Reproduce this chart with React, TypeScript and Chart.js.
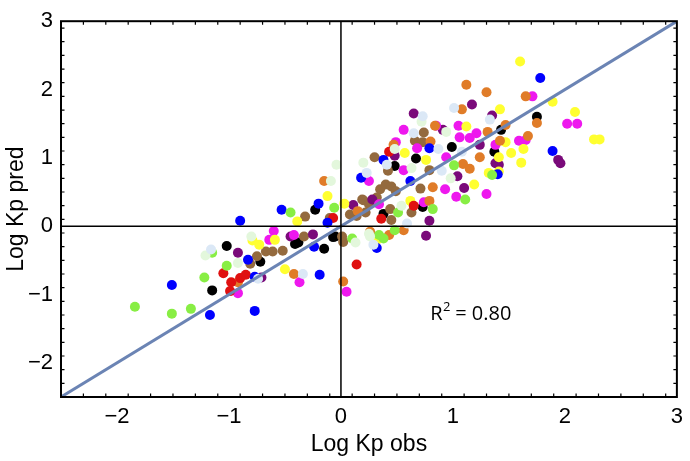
import React, { useEffect, useRef } from "react";
import { Chart, registerables } from "chart.js";

Chart.register(...registerables);

const X_TICKS = [-2, -1, 0, 1, 2, 3];
const Y_TICKS = [-2, -1, 0, 1, 2, 3];
const X_TITLE = "Log Kp obs";
const Y_TITLE = "Log Kp pred";
const R2_LABEL = "0.80";
const R2_POS = [1.16, -1.29];
const FIT_LINE = [[-2.5, -2.5], [3, 3]];

const bluePts = [[-1.51,-0.86],[-1.17,-1.30],[-0.77,-1.24],[-0.77,-0.74],[-0.83,-0.49],[-0.90,0.08],[-0.53,0.24],[-0.12,0.05],[-0.24,-0.30],[-0.19,-0.71],[-0.20,0.33],[0.18,0.71],[0.32,-0.32],[1.78,2.17],[0.79,1.14],[1.89,1.10],[0.38,0.97],[0.62,0.66],[1.40,0.76]];
const blackPts = [[-1.15,-0.94],[-1.02,-0.29],[-0.72,-0.52],[-0.41,-0.26],[-0.38,-0.24],[-0.15,-0.33],[-0.07,-0.16],[-0.23,0.24],[-0.05,-0.15],[0.38,0.18],[0.73,0.28],[0.48,0.88],[0.67,0.99],[0.99,1.16],[1.37,1.09],[1.43,1.41],[1.75,1.60]];
const redPts = [[-0.99,-0.95],[-0.90,-0.76],[-0.85,-0.71],[-1.05,-0.69],[-0.98,-0.82],[0.14,-0.56],[0.43,1.09],[0.36,0.11],[0.65,0.30],[-0.07,0.12]];
const orangePts = [[-0.92,-0.82],[-0.42,-0.70],[0.02,-0.81],[-0.15,0.66],[1.12,2.07],[1.30,1.96],[1.65,1.90],[1.08,1.71],[1.75,1.51],[0.84,1.47],[1.47,1.48],[1.31,1.38],[1.67,1.32],[0.80,1.24],[0.47,1.19],[1.42,1.25],[1.24,1.01],[1.09,0.91],[1.15,0.84],[0.82,0.57],[0.79,0.37],[0.56,-0.06],[0.43,-0.13],[0.26,-0.08],[0.15,0.22]];
const yellowPts = [[-0.79,-0.21],[-0.73,-0.27],[-0.59,-0.20],[-0.50,-0.63],[-0.39,0.07],[-0.12,0.44],[0.03,0.33],[1.60,2.41],[1.89,1.82],[1.42,1.71],[2.09,1.67],[1.12,1.46],[2.26,1.27],[2.31,1.27],[1.47,1.23],[1.63,1.13],[0.57,1.07],[1.52,1.07],[1.61,0.93],[1.41,1.01],[0.76,0.97],[1.32,0.78],[1.41,0.80],[1.19,0.61],[0.62,0.37],[0.32,-0.20]];
const magentaPts = [[-0.92,-0.98],[-0.64,-0.20],[-0.60,-0.07],[-0.42,-0.13],[-0.37,-0.82],[0.05,-0.96],[0.25,0.66],[1.71,1.90],[2.02,1.50],[2.11,1.50],[0.85,1.47],[1.05,1.47],[0.56,1.41],[1.06,1.30],[1.15,1.29],[1.21,1.36],[1.59,1.25],[1.65,1.26],[0.49,1.23],[0.68,1.14],[1.38,1.19],[0.94,1.01],[0.56,0.82],[0.93,0.54],[1.03,0.43],[1.30,0.47],[0.74,0.35],[0.34,0.32]];
const purplePts = [[-0.71,-0.75],[-0.92,-0.39],[-0.45,-0.15],[-0.25,-0.12],[0.11,0.31],[0.28,0.39],[1.17,1.78],[0.65,1.65],[1.35,1.62],[0.91,1.41],[1.24,1.19],[1.94,0.97],[1.96,0.92],[1.38,0.92],[1.41,0.90],[1.04,0.73],[1.10,0.56],[0.79,0.08],[0.76,-0.14],[0.48,1.03]];
const brownPts = [[-0.81,-0.55],[-0.75,-0.44],[-0.67,-0.37],[-0.61,-0.37],[-0.52,-0.36],[-0.33,-0.15],[-0.32,0.14],[-0.10,0.12],[0.08,0.17],[0.19,0.39],[0.22,0.20],[0.30,1.01],[0.74,1.37],[0.66,1.25],[0.73,1.23],[0.42,0.81],[0.79,0.82],[0.35,0.54],[0.40,0.61],[0.45,0.58],[0.49,0.51],[0.32,0.42],[0.71,0.55],[0.20,0.38],[0.25,0.32],[0.44,0.25],[0.63,0.20],[0.14,0.15],[0.45,0.09],[0.02,-0.23],[0.01,-0.15]];
const lightGreenPts = [[-1.84,-1.18],[-1.51,-1.28],[-1.34,-1.21],[-1.22,-0.75],[-1.02,-0.58],[-1.15,-0.39],[-0.45,0.20],[-0.06,0.27],[1.01,0.89],[1.35,0.75],[1.11,0.39],[0.82,0.25],[0.51,0.20],[0.38,-0.18],[0.10,-0.18],[0.48,-0.06],[0.34,-0.13]];
const paleGreenPts = [[-1.21,-0.43],[-0.92,-0.54],[-0.80,-0.15],[-0.09,0.66],[-0.04,0.90],[0.20,0.93],[0.72,1.53],[0.94,1.38],[0.48,1.13],[0.63,0.85],[0.98,0.70],[0.26,-0.15],[0.13,-0.24],[0.25,-0.11],[0.54,0.30]];
const paleBluePts = [[-1.16,-0.34],[-0.74,-0.77],[-0.34,-0.70],[0.23,0.78],[1.01,1.73],[0.73,1.61],[1.33,1.56],[0.65,1.36],[0.87,1.13],[1.08,1.09],[0.41,0.90],[0.90,0.81],[0.29,-0.27],[0.59,0.04]];

const SERIES: [number[][], string][] = [
  [paleBluePts, "#dbe8f6"],
  [paleGreenPts, "#e3f7dc"],
  [lightGreenPts, "#88ee44"],
  [bluePts, "#0000ff"],
  [redPts, "#e01010"],
  [orangePts, "#e07c28"],
  [yellowPts, "#ffff30"],
  [magentaPts, "#ee18ee"],
  [purplePts, "#7a0a7a"],
  [brownPts, "#946a3e"],
  [blackPts, "#000000"],
];

const FONT = "'Liberation Sans', Arial, sans-serif";
const fmt = (v: number) => (v < 0 ? "\u2212" + Math.abs(v) : String(v));

const framePlugin = {
  id: "frame",
  afterDatasetsDraw(chart: any) {
    const { ctx, chartArea: a, scales } = chart;
    const x = scales.x, y = scales.y;
    ctx.save();
    ctx.strokeStyle = "#000";
    ctx.lineWidth = 1.5;
    const x0 = x.getPixelForValue(0), y0 = y.getPixelForValue(0);
    ctx.beginPath();
    ctx.moveTo(x0, a.top); ctx.lineTo(x0, a.bottom);
    ctx.moveTo(a.left, y0); ctx.lineTo(a.right, y0);
    ctx.stroke();
    ctx.lineWidth = 2;
    ctx.strokeRect(a.left, a.top, a.right - a.left, a.bottom - a.top);
    ctx.lineWidth = 1.2;
    ctx.beginPath();
    for (let i = -25; i <= 30; i += 2) {
      const v = i / 10;
      const major = i % 10 === 0;
      const len = major ? 6 : 3.5;
      const px = x.getPixelForValue(v);
      const py = y.getPixelForValue(v);
      ctx.moveTo(px, a.bottom); ctx.lineTo(px, a.bottom - len);
      ctx.moveTo(px, a.top); ctx.lineTo(px, a.top + len);
      ctx.moveTo(a.left, py); ctx.lineTo(a.left + len, py);
      ctx.moveTo(a.right, py); ctx.lineTo(a.right - len, py);
    }
    ctx.stroke();
    // R^2 annotation
    const tx = x.getPixelForValue(R2_POS[0]);
    const ty = y.getPixelForValue(R2_POS[1]);
    ctx.fillStyle = "#000";
    ctx.textBaseline = "middle";
    ctx.textAlign = "left";
    const big = `20px 'Open Sans', ${FONT}`;
    const small = `13px 'Open Sans', ${FONT}`;
    ctx.font = big;
    const rW = ctx.measureText("R").width;
    ctx.font = small;
    const sW = ctx.measureText("2").width;
    ctx.font = big;
    const rest = " = " + R2_LABEL;
    const restW = ctx.measureText(rest).width;
    const total = rW + sW + restW;
    const sx = tx - total / 2;
    ctx.fillText("R", sx, ty);
    ctx.font = small;
    ctx.fillText("2", sx + rW + 0.5, ty - 7);
    ctx.font = big;
    ctx.fillText(rest, sx + rW + sW, ty);
    ctx.restore();
  },
};

export default function App() {
  const ref = useRef<HTMLCanvasElement>(null);
  useEffect(() => {
    document.body.style.margin = "0";
    const datasets: any[] = [
      {
        type: "line",
        data: FIT_LINE.map(([a, b]) => ({ x: a, y: b })),
        borderColor: "#6b84b4",
        borderWidth: 3,
        pointRadius: 0,
        fill: false,
        order: 0,
      },
      ...SERIES.map(([pts, c]) => ({
        type: "scatter",
        data: pts.map(([a, b]) => ({ x: a, y: b })),
        backgroundColor: c,
        borderWidth: 0,
        pointRadius: 5,
        pointHoverRadius: 5,
        order: 1,
      })),
    ];
    const chart = new Chart(ref.current!, {
      type: "scatter",
      data: { datasets },
      options: {
        animation: false,
        responsive: false,
        events: [],
        layout: { padding: { left: 0, top: 13, right: 7, bottom: 0 } },
        plugins: { legend: { display: false }, tooltip: { enabled: false } },
        scales: {
          x: {
            type: "linear",
            min: -2.5,
            max: 3,
            afterBuildTicks: (s: any) => { s.ticks = X_TICKS.map((v) => ({ value: v })); },
            afterFit: (s: any) => { s.height = 64; },
            grid: { display: false, drawTicks: false },
            border: { display: false },
            ticks: { callback: (v: any) => fmt(Number(v)), font: { size: 22, family: FONT }, color: "#000", padding: 7, maxRotation: 0, autoSkip: false },
            title: { display: true, text: X_TITLE, font: { size: 23, family: FONT }, color: "#000", padding: { top: 0, bottom: 3 } },
          },
          y: {
            type: "linear",
            min: -2.5,
            max: 3,
            afterBuildTicks: (s: any) => { s.ticks = Y_TICKS.map((v) => ({ value: v })); },
            afterFit: (s: any) => { s.width = 61; },
            grid: { display: false, drawTicks: false },
            border: { display: false },
            ticks: { callback: (v: any) => fmt(Number(v)), font: { size: 22, family: FONT }, color: "#000", padding: 8, autoSkip: false },
            title: { display: true, text: Y_TITLE, font: { size: 23, family: FONT }, color: "#000", padding: { top: 3, bottom: 0 } },
          },
        },
      },
      plugins: [framePlugin],
    } as any);
    return () => chart.destroy();
  }, []);
  return (
    <div style={{ width: 690, height: 461 }}>
      <canvas ref={ref} width={690} height={461} />
    </div>
  );
}
